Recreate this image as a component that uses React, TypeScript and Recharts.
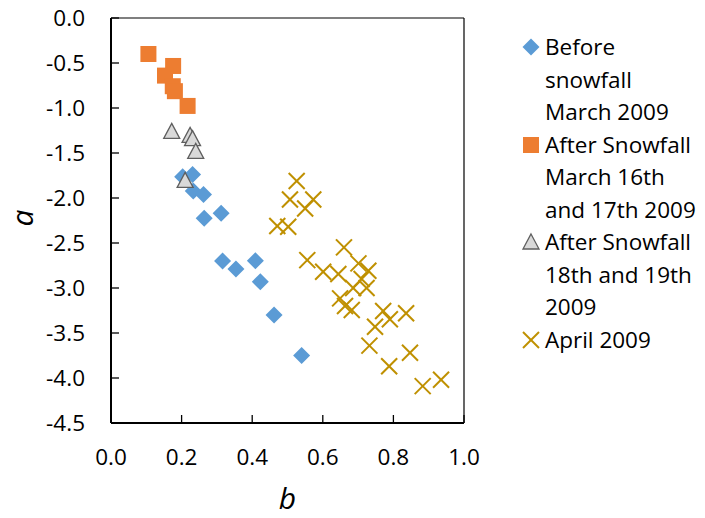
import React from 'react';
import { ScatterChart, Scatter, XAxis, YAxis, ReferenceLine, Legend } from 'recharts';

const beforeB = [0.203, 0.231, 0.233, 0.262, 0.312, 0.264, 0.316, 0.354, 0.409, 0.423, 0.462, 0.54];
const beforeA = [-1.764, -1.738, -1.923, -1.96, -2.17, -2.226, -2.7, -2.79, -2.697, -2.93, -3.3, -3.75];

const after16B = [0.106, 0.176, 0.153, 0.175, 0.181, 0.217];
const after16A = [-0.4, -0.533, -0.64, -0.758, -0.813, -0.977];

const after18B = [0.172, 0.224, 0.231, 0.24, 0.21];
const after18A = [-1.265, -1.31, -1.346, -1.487, -1.81];

const aprilB = [0.526, 0.507, 0.573, 0.55, 0.471, 0.502, 0.66, 0.556, 0.601, 0.644, 0.701, 0.729, 0.71, 0.686, 0.724, 0.649, 0.663, 0.682, 0.771, 0.79, 0.836, 0.748, 0.732, 0.847, 0.788, 0.883, 0.935];
const aprilA = [-1.812, -2.016, -2.016, -2.116, -2.312, -2.32, -2.549, -2.69, -2.82, -2.845, -2.726, -2.808, -2.9, -3.0, -3.0, -3.115, -3.2, -3.244, -3.255, -3.347, -3.28, -3.43, -3.64, -3.72, -3.87, -4.09, -4.02];

const xTicks = [0, 0.2, 0.4, 0.6, 0.8, 1.0];
const yTicks = [0, -0.5, -1.0, -1.5, -2.0, -2.5, -3.0, -3.5, -4.0, -4.5];

const seriesNames = [
  ['Before', 'snowfall', 'March 2009'],
  ['After Snowfall', 'March 16th', 'and 17th 2009'],
  ['After Snowfall', '18th and 19th', '2009'],
  ['April 2009'],
];

const xTitle = 'b';
const yTitle = 'a';

const zip = (bs: number[], as: number[]) => bs.map((b, i) => ({ b, a: as[i] }));
const beforeData = zip(beforeB, beforeA);
const after16Data = zip(after16B, after16A);
const after18Data = zip(after18B, after18A);
const aprilData = zip(aprilB, aprilA);

const BLUE = '#5B9BD5';
const ORANGE = '#ED7D31';
const TRI_FILL = '#D9D9D9';
const TRI_STROKE = '#5F5F5F';
const GOLD = '#BF9000';
const FONT = '"Open Sans", sans-serif';

const Diamond = ({ cx, cy }: any) => (
  <polygon points={`${cx},${cy - 8.5} ${cx + 8.5},${cy} ${cx},${cy + 8.5} ${cx - 8.5},${cy}`} fill={BLUE} />
);
const Square = ({ cx, cy }: any) => <rect x={cx - 8} y={cy - 8} width={16} height={16} fill={ORANGE} />;
const Triangle = ({ cx, cy }: any) => (
  <polygon
    points={`${cx},${cy - 8.5} ${cx + 8},${cy + 6.5} ${cx - 8},${cy + 6.5}`}
    fill={TRI_FILL}
    stroke={TRI_STROKE}
    strokeWidth={1.3}
  />
);
const XMark = ({ cx, cy }: any) => (
  <g stroke={GOLD} strokeWidth={2}>
    <line x1={cx - 8} y1={cy - 8} x2={cx + 8} y2={cy + 8} />
    <line x1={cx - 8} y1={cy + 8} x2={cx + 8} y2={cy - 8} />
  </g>
);

const legendMarkers = [
  <polygon key="d" points="11,2.5 19.5,11 11,19.5 2.5,11" fill={BLUE} />,
  <rect key="s" x={3} y={3} width={16} height={16} fill={ORANGE} />,
  <polygon key="t" points="11,3 19,18 3,18" fill={TRI_FILL} stroke={TRI_STROKE} strokeWidth={1.3} />,
  <g key="x" stroke={GOLD} strokeWidth={2}>
    <line x1={3} y1={3} x2={19} y2={19} />
    <line x1={3} y1={19} x2={19} y2={3} />
  </g>,
];

const renderLegend = () => (
  <div style={{ fontFamily: FONT, fontSize: 22.5, lineHeight: '32.5px', color: '#000' }}>
    {seriesNames.map((lines, i) => (
      <div key={i} style={{ display: 'flex', alignItems: 'flex-start' }}>
        <svg width={22} height={22} style={{ marginTop: 5.25, flex: 'none' }}>
          {legendMarkers[i]}
        </svg>
        <div style={{ marginLeft: 3, whiteSpace: 'nowrap' }}>
          {lines.map((l, j) => (
            <div key={j}>{l}</div>
          ))}
        </div>
      </div>
    ))}
  </div>
);

const titleStyle = { fontFamily: FONT, fontSize: 30, fontStyle: 'italic' as const, fill: '#000' };

const YTitle = (props: any) => {
  const vb = props.viewBox || { x: 0, y: 18, width: 111, height: 405 };
  const cx = vb.x + 33;
  const cy = vb.y + vb.height / 2 - 2.5;
  return (
    <text x={cx} y={cy} transform={`rotate(-90, ${cx}, ${cy})`} textAnchor="middle" style={titleStyle}>
      {yTitle}
    </text>
  );
};

const XTitle = (props: any) => {
  const vb = props.viewBox || { x: 111, y: 423, width: 353, height: 95 };
  const cx = vb.x + vb.width / 2;
  const cy = vb.y + vb.height - 9.5;
  return (
    <text x={cx} y={cy} textAnchor="middle" style={titleStyle}>
      {xTitle}
    </text>
  );
};

export default function App() {
  return (
    <div style={{ position: 'absolute', left: 0, top: 0, width: 705, height: 518, background: '#fff' }}>
      <ScatterChart width={705} height={518} margin={{ top: 18, right: 241, bottom: 0, left: 0 }}>
        <XAxis
          type="number"
          dataKey="b"
          domain={[0, 1]}
          ticks={xTicks}
          tickFormatter={(v: number) => v.toFixed(1)}
          height={95}
          axisLine={{ stroke: '#000', strokeWidth: 2 }}
          tickLine={{ stroke: '#000', strokeWidth: 1.3 }}
          tickSize={-8}
          tickMargin={34}
          tick={{ fill: '#000', fontSize: 22.5, fontFamily: FONT }}
          interval={0}
          allowDataOverflow
          label={XTitle}
        />
        <YAxis
          type="number"
          dataKey="a"
          domain={[-4.5, 0]}
          ticks={yTicks}
          tickFormatter={(v: number) => v.toFixed(1)}
          width={111}
          axisLine={{ stroke: '#000', strokeWidth: 2 }}
          tickLine={{ stroke: '#000', strokeWidth: 1.3 }}
          tickSize={-8}
          tickMargin={34}
          tick={{ fill: '#000', fontSize: 22.5, fontFamily: FONT }}
          interval={0}
          allowDataOverflow
          label={YTitle}
        />
        <ReferenceLine y={0} stroke="#000" strokeWidth={1.2} />
        <ReferenceLine x={1} stroke="#000" strokeWidth={1.2} />
        <Legend
          layout="horizontal"
          align="center"
          verticalAlign="middle"
          content={renderLegend}
          wrapperStyle={{ left: 520, top: 31, width: 185, height: 340 }}
        />
        <Scatter name="Before snowfall March 2009" data={beforeData} shape={Diamond} isAnimationActive={false} />
        <Scatter name="After Snowfall March 16th and 17th 2009" data={after16Data} shape={Square} isAnimationActive={false} />
        <Scatter name="After Snowfall 18th and 19th 2009" data={after18Data} shape={Triangle} isAnimationActive={false} />
        <Scatter name="April 2009" data={aprilData} shape={XMark} isAnimationActive={false} />
      </ScatterChart>
    </div>
  );
}
